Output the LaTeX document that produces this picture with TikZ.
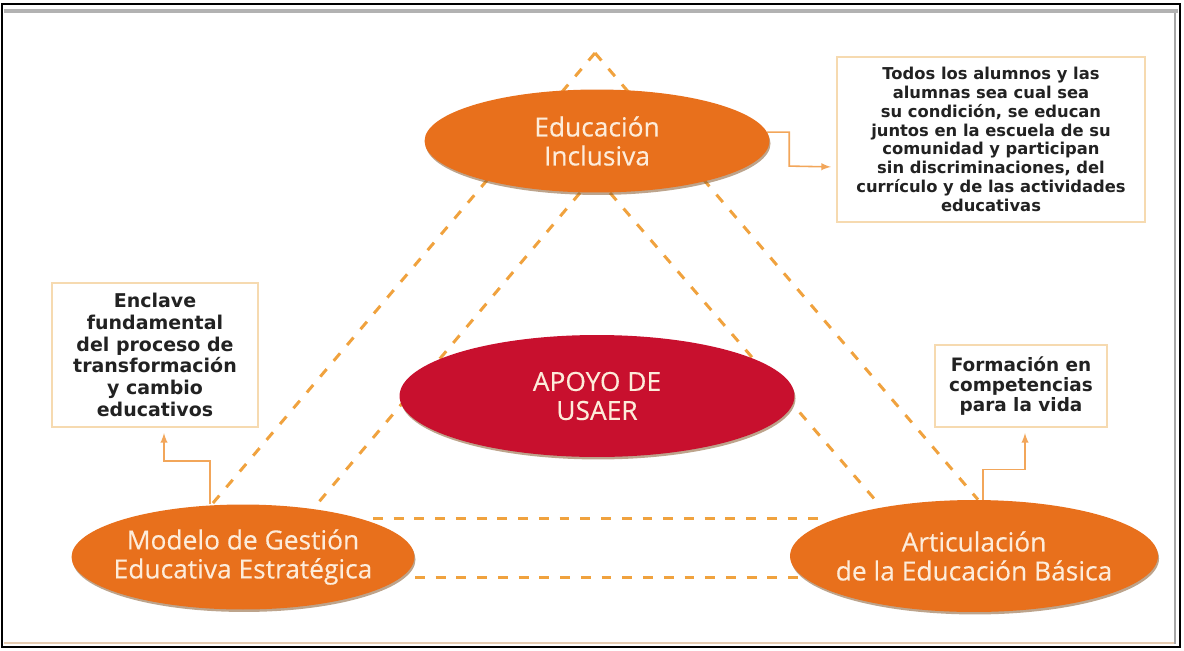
\documentclass[tikz,border=0pt]{standalone}
\usepackage{fontspec}
\newfontfamily\ovalfont{Open Sans}[FakeBold=0.3]
\newfontfamily\notefont{DejaVu Sans}
\usetikzlibrary{positioning,calc,shapes.geometric,shadows,backgrounds}

\definecolor{ovalorange}{RGB}{232,112,28}
\definecolor{ovalred}{RGB}{200,16,46}
\definecolor{ovaltext}{RGB}{253,236,218}
\definecolor{dashorange}{RGB}{240,162,62}
\definecolor{linkorange}{RGB}{242,166,90}
\definecolor{boxline}{RGB}{246,218,176}
\definecolor{notetext}{RGB}{34,34,34}

\begin{document}
\begin{tikzpicture}[x=0.02cm,y=-0.02cm,
        oval/.style={ellipse, fill=ovalorange, inner xsep=-7pt, inner ysep=0pt, text=ovaltext, align=center,
            font=\ovalfont\fontsize{15}{16.5}\selectfont,
            drop shadow={shadow xshift=0.6pt, shadow yshift=-1.4pt, fill=brown!70!black, opacity=0.55}},
        centeroval/.style={oval, fill=ovalred},
        notebox/.style={draw=boxline, fill=white, line width=0.9pt, inner sep=0pt, align=center, text=notetext},
        guide/.style={draw=dashorange, line width=1.7pt, dash pattern=on 5.6pt off 6.2pt},
        pointer/.style={draw=linkorange, line width=0.9pt, -latex, shorten >=3pt},
    ]
    \useasboundingbox (0,0) rectangle (1184,650);

    %Frame
    \draw[black, line width=1.5pt] (2,4) rectangle (1180,647);
    \draw[black!30, line width=2pt] (4,11) -- (1178,11);
    \draw[black!35, line width=1.2pt] (1175,13) -- (1175,644);
    \draw[brown!40, line width=1.2pt] (4,643) -- (1174,643);

    %Nodes: ovals
    \node[oval, minimum width=6.9cm, minimum height=2.06cm]      (oval_top)    at (597,141) {Educación\\Inclusiva};
    \node[centeroval, minimum width=7.9cm, minimum height=2.44cm] (oval_center) at (597,396) {APOYO DE\\USAER};
    \node[oval, minimum width=6.86cm, minimum height=2.1cm]      (oval_left)   at (243,557) {Modelo de Gestión\\Educativa Estratégica};
    \node[oval, minimum width=7.36cm, minimum height=2.24cm]     (oval_right)  at (974,556) {Articulación\\de la Educación Básica};

    %Nodes: notes
    \node[notebox, minimum width=6.16cm, minimum height=3.3cm, font=\notefont\bfseries\fontsize{9.3}{10.7}\selectfont]
        (note_top) at (991,139.5)
        {Todos los alumnos y las\\alumnas sea cual sea\\su condición, se educan\\juntos en la escuela de su\\comunidad y participan\\sin discriminaciones, del\\currículo y de las actividades\\educativas};
    \node[notebox, minimum width=4.12cm, minimum height=2.88cm, font=\notefont\bfseries\fontsize{10.8}{12.4}\selectfont]
        (note_left) at (155,355)
        {Enclave\\fundamental\\del proceso de\\transformación\\y cambio\\educativos};
    \node[notebox, minimum width=3.44cm, minimum height=1.64cm, font=\notefont\bfseries\fontsize{10.5}{11.4}\selectfont]
        (note_right) at (1021,386)
        {Formación en\\competencias\\para la vida};

    \coordinate (apex) at (595,53);

    %Dashed lines: triangles behind the ovals
    \begin{pgfonlayer}{background}
        \path[guide] (apex) -- ($(oval_left.north)+(-31,0)$);
        \path[guide] (apex) -- ($(oval_right.north)+(4,0)$);
        \path[guide] ($(oval_top.south)+(-17,0)$) -- ($(oval_left.north)+(74,0)$);
        \path[guide] ($(oval_top.south)+(13,0)$)  -- ($(oval_right.north)+(-99,0)$);
        \path[guide] ($(oval_left.center)+(130,-39)$) -- ($(oval_right.center)+(-152,-38)$);
        \path[guide] ($(oval_left.center)+(172,20)$)  -- ($(oval_right.center)+(-170,21)$);
    \end{pgfonlayer}

    %Pointers: ovals to notes
    \path[pointer] (oval_top.3) -- ++(22,0) -- ++(0,34) -- ($(note_top.west |- 0,167)$);
    \path[pointer] ($(oval_left.north)+(-33,0)$) -- ++(0,-43) -| ($(note_left.south)+(9,0)$);
    \path[pointer] ($(oval_right.north)+(9,0)$) -- ++(0,-30) -| ($(note_right.south)+(4,0)$);
\end{tikzpicture}
\end{document}
